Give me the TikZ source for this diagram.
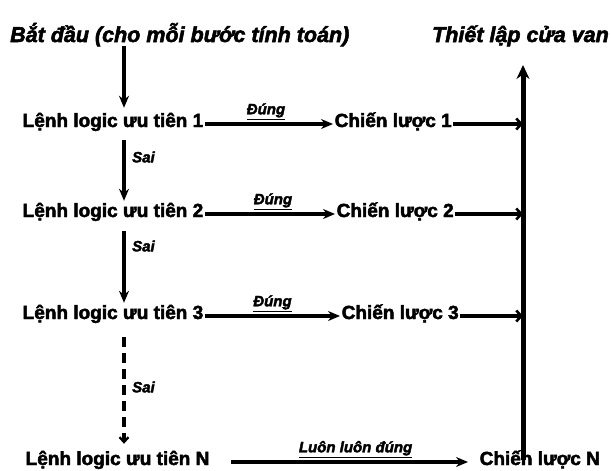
\documentclass[tikz,border=0pt]{standalone}
\usepackage{fontspec}
\setmainfont{Liberation Sans}[BoldFeatures={FakeBold=2.5}, BoldItalicFeatures={FakeBold=2.5}]
\usetikzlibrary{arrows.meta}
\tikzset{
  rowtext/.style={font=\bfseries\fontsize{19}{21}\selectfont, inner xsep=1.5pt, inner ysep=0pt, text height=9pt, text depth=3pt},
  titletext/.style={font=\bfseries\itshape\fontsize{21.5}{24}\selectfont, inner sep=0pt},
  lbl/.style={font=\bfseries\itshape\fontsize{15}{17}\selectfont, inner sep=0pt},
  thin/.style={line width=3.2pt, -{Stealth[length=12pt,width=10pt]}},
  barb/.style={line width=3.2pt, -{Straight Barb[length=5pt,width=11pt,line width=2.6pt]}},
  dashedarrow/.style={line width=3.2pt, dash pattern=on 10pt off 6pt, -{Straight Barb[length=5pt,width=9pt,line width=2.2pt]}},
  thick/.style={line width=5pt, -{Stealth[length=14pt,width=13pt]}}
}
\begin{document}
\begin{tikzpicture}[x=1pt,y=-1pt]
\useasboundingbox (0,0) rectangle (611,471);
% titles
\node[titletext, anchor=base west] (start) at (10,42) {Bắt đầu (cho mỗi bước tính toán)};
\node[titletext, anchor=base east] (gate) at (609,42) {Thiết lập cửa van};
% column coordinate and collector line
\coordinate (col) at (124,0);
\coordinate (top) at (523,65);
\coordinate (bot) at (523,460);
% rows
\node[rowtext, anchor=west] (l1) at (21,124) {Lệnh logic ưu tiên 1};
\node[rowtext, anchor=west] (c1) at (333,124) {Chiến lược 1};
\node[rowtext, anchor=west] (l2) at (21,214) {Lệnh logic ưu tiên 2};
\node[rowtext, anchor=west] (c2) at (335,214) {Chiến lược 2};
\node[rowtext, anchor=west] (l3) at (21,316) {Lệnh logic ưu tiên 3};
\node[rowtext, anchor=west] (c3) at (340,316) {Chiến lược 3};
\node[rowtext, anchor=west] (ln) at (24,462) {Lệnh logic ưu tiên N};
\node[rowtext, anchor=west] (cn) at (478,462) {Chiến lược N};
% vertical arrows
\draw[thin] ([yshift=1pt]start.south -| col) -- ([yshift=10pt]l1.north -| col);
\draw[thin] ([yshift=-10pt]l1.south -| col) -- ([yshift=7pt]l2.north -| col);
\draw[thin] ([yshift=-11pt]l2.south -| col) -- ([yshift=7pt]l3.north -| col);
\draw[dashedarrow] ([yshift=-15pt]l3.south -| col) -- ([yshift=12pt]ln.north -| col);
% Sai labels
\node[lbl, anchor=west] (s1) at (132,157) {Sai};
\node[lbl, anchor=west] (s2) at (132,246) {Sai};
\node[lbl, anchor=west] (s3) at (132,387) {Sai};
% horizontal arrows
\draw[thin] (l1.east) -- (c1.west) node[midway, lbl, above=3pt, xshift=-3pt] {\underline{Đúng}};
\draw[thin] (l2.east) -- (c2.west) node[midway, lbl, above=3pt, xshift=3pt] {\underline{Đúng}};
\draw[thin] (l3.east) -- (c3.west) node[midway, lbl, above=3pt, xshift=0pt] {\underline{Đúng}};
\draw[thin] ([xshift=20pt]ln.east) -- ([xshift=-10pt]cn.west) node[midway, lbl, above=3pt, xshift=6pt] {\underline{Luôn luôn đúng}};
% into collector
\draw[barb] (c1.east) -- (c1.east -| top);
\draw[barb] (c2.east) -- (c2.east -| top);
\draw[barb] (c3.east) -- (c3.east -| top);
\draw[thick] (bot) -- (top);
\end{tikzpicture}
\end{document}
